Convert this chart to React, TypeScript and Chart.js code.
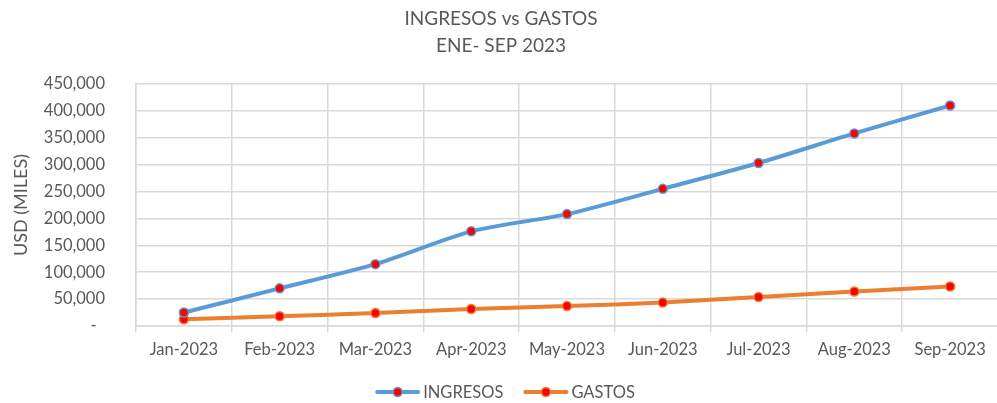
import React, { useEffect, useRef } from "react";
import { Chart, registerables } from "chart.js";

Chart.register(...registerables);

const months = [
  "Jan-2023",
  "Feb-2023",
  "Mar-2023",
  "Apr-2023",
  "May-2023",
  "Jun-2023",
  "Jul-2023",
  "Aug-2023",
  "Sep-2023",
];
const ingresos = [25000, 70000, 115000, 176000, 208000, 255000, 303000, 358000, 410000];
const gastos = [12500, 18000, 24000, 31500, 37000, 43500, 54000, 64000, 73500];
const titleLines = ["INGRESOS vs GASTOS", "ENE- SEP 2023"];
const yTitle = "USD (MILES)";
const seriesNames = ["INGRESOS", "GASTOS"];

const TEXT = "#595959";
const GRID = "#d9d9d9";
const BLUE = "#5b9bd5";
const ORANGE = "#ed7d31";
const RED = "#ff0000";
const FONT = "Lato, 'Open Sans', sans-serif";

const legendPlugin = {
  id: "excelLegend",
  afterDraw(chart: any) {
    const ctx = chart.ctx as CanvasRenderingContext2D;
    ctx.save();
    ctx.font = `16.5px ${FONT}`;
    ctx.textBaseline = "middle";
    ctx.textAlign = "left";
    const items = chart.data.datasets.map((ds: any) => ({
      label: ds.label as string,
      color: ds.borderColor as string,
      fill: ds.pointBackgroundColor as string,
      w: ctx.measureText(ds.label).width,
    }));
    const lineLen = 45;
    const gap = 3;
    const itemGap = 20;
    const total = items.reduce(
      (s: number, it: any, i: number) => s + lineLen + gap + it.w + (i ? itemGap : 0),
      0
    );
    let x = chart.width / 2 + 3 - total / 2;
    const y = 392;
    items.forEach((it: any) => {
      ctx.strokeStyle = it.color;
      ctx.lineWidth = 4;
      ctx.lineCap = "round";
      ctx.beginPath();
      ctx.moveTo(x + 2, y);
      ctx.lineTo(x + lineLen - 2, y);
      ctx.stroke();
      ctx.beginPath();
      ctx.arc(x + lineLen / 2, y, 4.5, 0, Math.PI * 2);
      ctx.fillStyle = it.fill;
      ctx.fill();
      ctx.lineWidth = 1.5;
      ctx.stroke();
      ctx.fillStyle = TEXT;
      ctx.fillText(it.label, x + lineLen + gap, y + 1);
      x += lineLen + gap + it.w + itemGap;
    });
    ctx.restore();
  },
};

export default function App() {
  const ref = useRef<HTMLCanvasElement | null>(null);

  useEffect(() => {
    document.body.style.overflow = "hidden";
    document.documentElement.style.overflow = "hidden";
    if (!ref.current) return;
    const chart = new Chart(ref.current, {
      type: "line",
      data: {
        labels: months,
        datasets: [
          {
            label: seriesNames[0],
            data: ingresos,
            borderColor: BLUE,
            backgroundColor: BLUE,
            borderWidth: 4,
            tension: 0.25,
            pointRadius: 4.5,
            pointBorderWidth: 1.5,
            pointBackgroundColor: RED,
            pointBorderColor: BLUE,
          },
          {
            label: seriesNames[1],
            data: gastos,
            borderColor: ORANGE,
            backgroundColor: ORANGE,
            borderWidth: 4,
            tension: 0.25,
            pointRadius: 4.5,
            pointBorderWidth: 1.5,
            pointBackgroundColor: RED,
            pointBorderColor: ORANGE,
          },
        ],
      },
      options: {
        animation: false,
        responsive: true,
        maintainAspectRatio: false,
        layout: { padding: { left: 0, right: 2, top: 0, bottom: 37 } },
        plugins: {
          legend: { display: false },
          tooltip: { enabled: false },
          title: {
            display: true,
            text: titleLines,
            color: TEXT,
            font: { family: FONT, size: 19, weight: "normal", lineHeight: 1.42 },
            padding: { top: 5, bottom: 25 },
          },
        },
        scales: {
          x: {
            offset: true,
            grid: {
              offset: true,
              color: GRID,
              lineWidth: 1.5,
              drawTicks: true,
              tickLength: 6,
            },
            border: { color: GRID, width: 1.5 },
            ticks: {
              color: TEXT,
              font: { family: FONT, size: 16.5 },
              padding: 8,
              maxRotation: 0,
              autoSkip: false,
            },
            afterFit: (s: any) => {
              s.height = 40;
            },
          },
          y: {
            min: 0,
            max: 450000,
            grid: { color: GRID, lineWidth: 1.5, drawTicks: false },
            border: { color: GRID, width: 1.5 },
            ticks: {
              stepSize: 50000,
              color: TEXT,
              font: { family: FONT, size: 16.5 },
              padding: 31,
              callback: (v: any) => (Number(v) === 0 ? "-  " : Number(v).toLocaleString("en-US")),
            },
            title: {
              display: true,
              text: yTitle,
              color: TEXT,
              font: { family: FONT, size: 18, weight: "normal" },
              padding: { top: 10, bottom: 0 },
            },
            afterFit: (s: any) => {
              s.width = 136;
            },
          },
        },
      },
      plugins: [legendPlugin],
    });
    return () => chart.destroy();
  }, []);

  return (
    <div style={{ position: "fixed", left: 0, top: 0, width: 1004, height: 403, background: "#fff" }}>
      <canvas ref={ref} />
    </div>
  );
}
